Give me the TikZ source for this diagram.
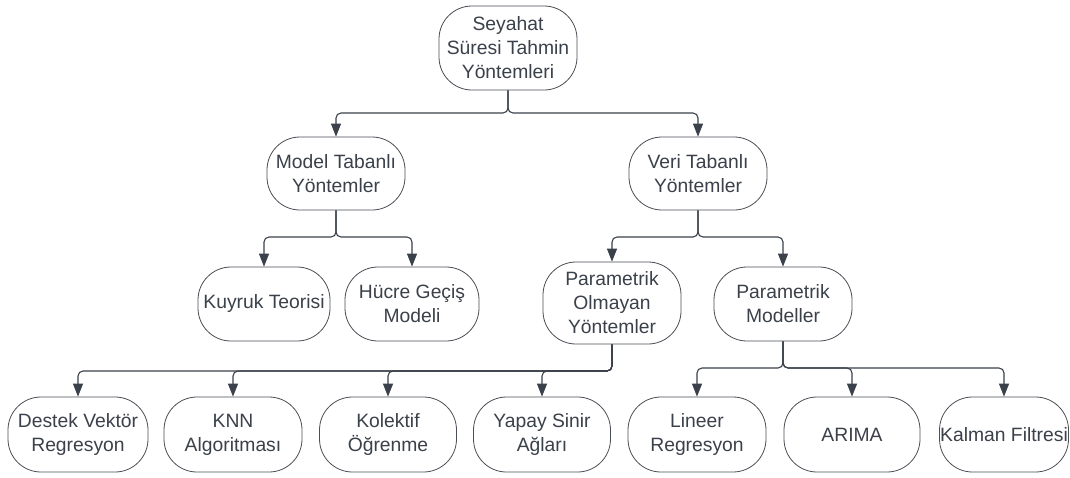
\documentclass[tikz,border=0pt]{standalone}
\usepackage{fontspec}
\setmainfont{Liberation Sans}
\usetikzlibrary{arrows.meta}
\definecolor{ink}{HTML}{3A414A}
\definecolor{edge}{HTML}{4A4F55}
\tikzset{
  box/.style={draw=edge, line width=0.8pt, rounded corners=33pt, align=center,
    text=ink, inner sep=0pt, font=\fontsize{19.3}{24}\selectfont,
    minimum width=138pt, minimum height=75pt},
  conn/.style={draw=ink, line width=1.1pt, rounded corners=5pt,
    -{Triangle[length=13pt,width=10pt]}},
}
\begin{document}
\begin{tikzpicture}[x=1pt,y=-1pt]
\useasboundingbox[fill=white] (0,0) rectangle (1070,477);

% level 0
\node[box, minimum height=84pt] (root) at (508,48) {Seyahat\\Süresi Tahmin\\Yöntemleri};

% level 1
\node[box, minimum height=73pt] (model) at (336,173.5) {Model Tabanlı\\Yöntemler};
\node[box, minimum height=73pt] (veri) at (698,173.5) {Veri Tabanlı\\Yöntemler};

% level 2
\node[box, minimum width=132pt, minimum height=74pt] (kuyruk) at (264,304) {Kuyruk Teorisi};
\node[box, minimum width=134pt, minimum height=74pt] (hucre) at (412,304) {Hücre Geçiş\\Modeli};
\node[box, minimum height=82pt] (parol) at (612,303) {Parametrik\\Olmayan\\Yöntemler};
\node[box, minimum height=74pt] (parmod) at (783,304) {Parametrik\\Modeller};

% level 3
\node[box, minimum width=140pt] (destek) at (78,434.5) {Destek Vektör\\Regresyon};
\node[box] (knn) at (233,434.5) {KNN\\Algoritması};
\node[box, minimum width=137pt] (kolektif) at (388,434.5) {Kolektif\\Öğrenme};
\node[box, minimum width=137pt] (yapay) at (542,434.5) {Yapay Sinir\\Ağları};
\node[box] (lineer) at (697,434.5) {Lineer\\Regresyon};
\node[box, minimum width=136pt] (arima) at (852,434.5) {ARIMA};
\node[box, minimum width=129pt] (kalman) at (1004,434.5) {Kalman Filtresi};

% connectors
\foreach \c in {model,veri}
  \draw[conn] (root.south) -- (root.south |- 0,113) -| (\c.north);
\foreach \c in {kuyruk,hucre}
  \draw[conn] (model.south) -- (model.south |- 0,237) -| (\c.north);
\foreach \c in {parol,parmod}
  \draw[conn] (veri.south) -- (veri.south |- 0,237) -| (\c.north);
\foreach \c in {destek,knn,kolektif,yapay}
  \draw[conn] (parol.south) -- (parol.south |- 0,371) -| (\c.north);
\foreach \c in {lineer,arima,kalman}
  \draw[conn] (parmod.south) -- (parmod.south |- 0,368) -| (\c.north);
\end{tikzpicture}
\end{document}
